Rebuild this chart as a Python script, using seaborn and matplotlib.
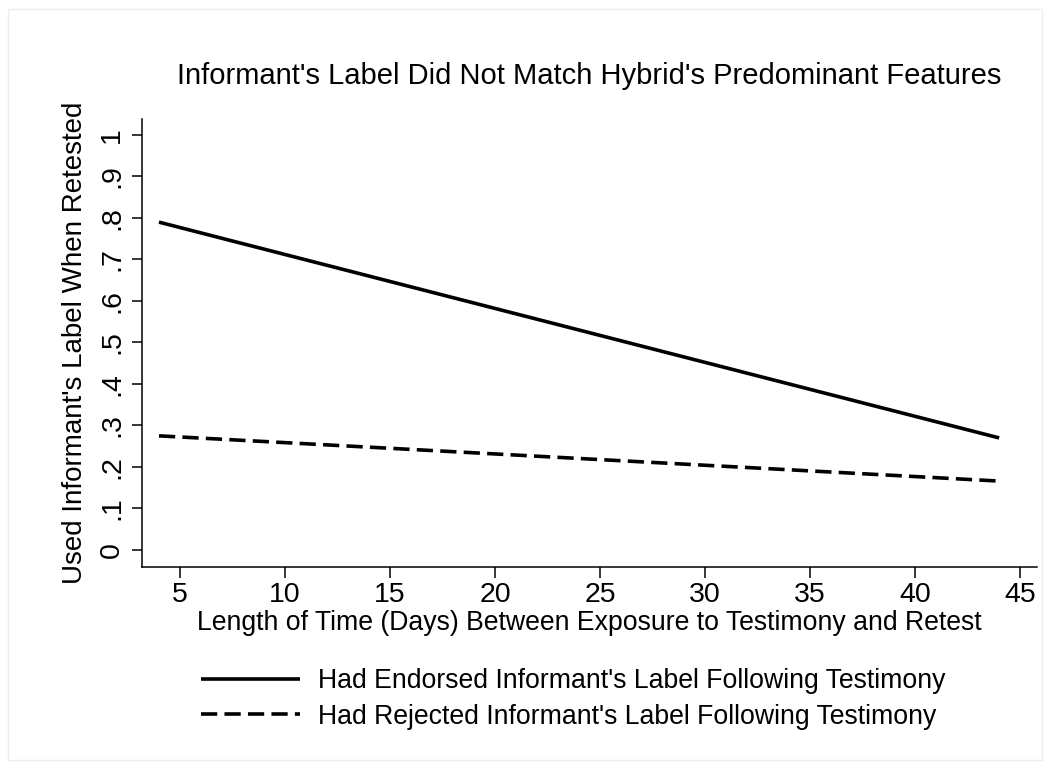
import matplotlib
matplotlib.use("Agg")
import matplotlib.pyplot as plt
import matplotlib.patches as patches
import pandas as pd
import seaborn as sns

# --- data ---
days = [4, 44]
endorsed = [0.79, 0.27]
rejected = [0.275, 0.166]
labels = ["Had Endorsed Informant's Label Following Testimony",
          "Had Rejected Informant's Label Following Testimony"]
x_ticks = [5, 10, 15, 20, 25, 30, 35, 40, 45]
y_ticks = [0, 0.1, 0.2, 0.3, 0.4, 0.5, 0.6, 0.7, 0.8, 0.9, 1.0]
y_tick_labels = ["0", ".1", ".2", ".3", ".4", ".5", ".6", ".7", ".8", ".9", "1"]

df = pd.DataFrame({
    "days": days + days,
    "value": endorsed + rejected,
    "group": [labels[0]] * len(days) + [labels[1]] * len(days),
})

sns.set_theme(style="ticks")
plt.rcParams["font.family"] = ["Liberation Sans", "DejaVu Sans"]
plt.rcParams["text.color"] = "black"
plt.rcParams["axes.labelcolor"] = "black"

fig = plt.figure(figsize=(10.5, 7.69), dpi=100)
ax = fig.add_axes([0.1352, 0.2627, 0.8524, 0.5826])

sns.lineplot(data=df, x="days", y="value", hue="group", style="group",
             palette=["black", "black"], dashes=[(1, 0), (4.5, 2)],
             linewidth=2.6, ax=ax, legend=True)

ax.set_xlim(3.19, 45.8)
ax.set_ylim(-0.041, 1.0386)
ax.set_xticks(x_ticks)
ax.set_yticks(y_ticks)
ax.set_yticklabels(y_tick_labels, rotation=90, va="center")
ax.tick_params(axis="both", labelsize=20.5, colors="black", width=1.1)
ax.tick_params(axis="y", length=7, pad=5)
ax.tick_params(axis="x", length=8, pad=3)
sns.despine(ax=ax)
for s in ["left", "bottom"]:
    ax.spines[s].set_color("black")
    ax.spines[s].set_linewidth(1.1)

ax.set_xlabel("Length of Time (Days) Between Exposure to Testimony and Retest",
              fontsize=19.2, labelpad=1)
ax.set_ylabel("Used Informant's Label When Retested", fontsize=20, labelpad=8)
ax.set_title("Informant's Label Did Not Match Hybrid's Predominant Features",
             fontsize=21, pad=25)

handles, lbls = ax.get_legend_handles_labels()
ax.legend(handles, lbls, loc="upper center", bbox_to_anchor=(0.546, 0.162),
          bbox_transform=fig.transFigure, frameon=False, fontsize=19.2,
          handlelength=3.7, handletextpad=0.7, labelspacing=0.35)

# faint outer frame like the original export
fig.patches.append(patches.Rectangle((0.0076, 0.0117), 0.9848, 0.9766,
                                     transform=fig.transFigure, fill=False,
                                     edgecolor="#eeeeee", linewidth=1))

fig.savefig("out.png", dpi=100)
